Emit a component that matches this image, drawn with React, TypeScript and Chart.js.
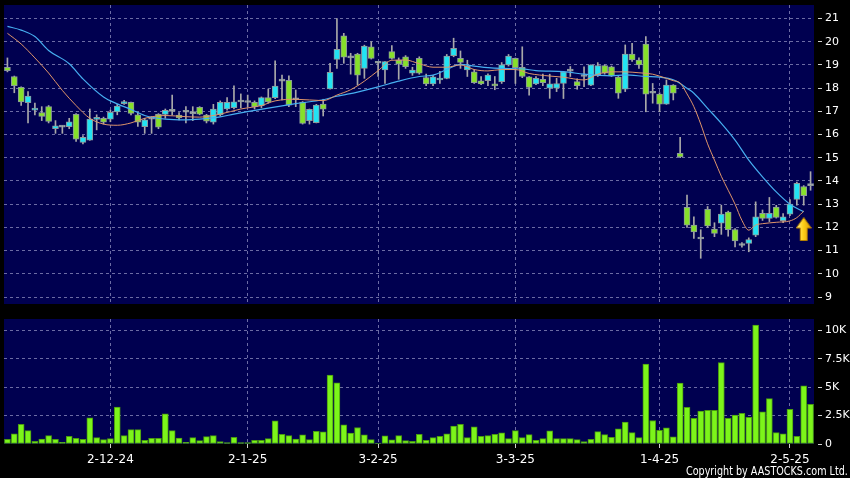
import React, { useEffect, useRef } from 'react';
import { Chart, registerables } from 'chart.js';

Chart.register(...registerables);

// ---------- DATA ----------
const dates: string[] = [
  '11-11-24','12-11-24','13-11-24','14-11-24','15-11-24','18-11-24','19-11-24','20-11-24','21-11-24','22-11-24',
  '25-11-24','26-11-24','27-11-24','28-11-24','29-11-24',
  '2-12-24','3-12-24','4-12-24','5-12-24','6-12-24','9-12-24','10-12-24','11-12-24','12-12-24','13-12-24',
  '16-12-24','17-12-24','18-12-24','19-12-24','20-12-24','23-12-24','24-12-24','27-12-24','30-12-24','31-12-24',
  '2-1-25','3-1-25','6-1-25','7-1-25','8-1-25','9-1-25','10-1-25','13-1-25','14-1-25','15-1-25',
  '16-1-25','17-1-25','20-1-25','21-1-25','22-1-25','23-1-25','24-1-25','27-1-25','28-1-25',
  '3-2-25','4-2-25','5-2-25','6-2-25','7-2-25','10-2-25','11-2-25','12-2-25','13-2-25','14-2-25',
  '17-2-25','18-2-25','19-2-25','20-2-25','21-2-25','24-2-25','25-2-25','26-2-25','27-2-25','28-2-25',
  '3-3-25','4-3-25','5-3-25','6-3-25','7-3-25','10-3-25','11-3-25','12-3-25','13-3-25','14-3-25',
  '17-3-25','18-3-25','19-3-25','20-3-25','21-3-25','24-3-25','25-3-25','26-3-25','27-3-25','28-3-25','31-3-25',
  '1-4-25','2-4-25','3-4-25','7-4-25','8-4-25','9-4-25','10-4-25','11-4-25','14-4-25','15-4-25',
  '16-4-25','17-4-25','22-4-25','23-4-25','24-4-25','25-4-25','28-4-25','29-4-25','30-4-25',
  '2-5-25','6-5-25','7-5-25','8-5-25'
];

const tickLabels: string[] = ['2-12-24', '2-1-25', '3-2-25', '3-3-25', '1-4-25', '2-5-25'];
const priceTicks: number[] = [9, 10, 11, 12, 13, 14, 15, 16, 17, 18, 19, 20, 21];
const volTicks: number[] = [0, 2500, 5000, 7500, 10000];

const openP: number[] = [
  18.9,18.5,18.03,17.37,17.05,16.95,17.2,16.25,16.32,16.34,
  16.87,15.66,15.76,16.65,16.7,16.66,16.97,17.33,17.39,16.85,
  16.34,16.66,16.87,16.87,17.0,16.84,16.96,16.9,17.17,16.84,
  16.53,16.84,17.1,17.16,17.4,17.38,17.39,17.24,17.59,17.59,
  18.32,18.34,17.5,17.4,16.6,16.51,17.31,17.97,19.24,20.25,
  19.3,19.47,18.85,19.78,19.07,18.78,19.57,19.21,19.35,18.64,
  19.28,18.45,18.18,18.35,18.42,19.4,19.28,18.78,18.7,18.31,
  18.32,18.18,18.28,19.0,19.28,18.9,18.49,18.18,18.38,18.0,
  18.0,18.2,18.73,18.28,18.5,18.13,18.56,18.97,18.92,18.47,
  17.95,19.47,19.21,19.9,17.78,17.74,17.31,18.13,15.19,12.86,
  12.1,11.5,12.78,11.93,12.18,12.66,11.91,11.22,11.31,11.67,
  12.61,12.39,12.88,12.29,12.57,13.21,13.76,13.8
];

const highP: number[] = [
  19.3,18.52,18.05,17.85,17.35,17.2,17.25,16.6,16.38,16.7,
  16.9,15.95,17.1,16.85,16.75,17.05,17.3,17.47,17.4,16.95,
  16.7,16.77,16.9,17.1,17.7,16.95,17.2,17.2,17.2,16.87,
  17.3,17.45,17.59,18.1,17.75,17.7,17.45,17.62,17.96,19.17,
  18.56,18.53,17.92,17.42,17.1,17.3,17.52,19.07,21.0,20.36,
  19.5,19.5,19.85,20.0,19.15,19.14,19.83,19.3,19.4,18.9,
  19.35,18.6,18.55,18.72,19.45,20.15,19.6,19.2,18.8,18.5,
  18.62,18.5,19.1,19.45,19.3,19.78,18.5,18.5,18.6,18.6,
  18.42,18.72,18.93,18.4,18.92,19.0,19.1,19.0,18.95,18.5,
  19.86,19.93,19.3,20.22,18.2,17.8,18.35,18.15,15.88,13.39,
  12.46,11.9,12.9,12.2,12.96,12.7,11.95,11.35,11.55,13.1,
  12.75,13.29,12.95,12.6,13.2,13.95,13.8,14.4
];

const lowP: number[] = [
  18.7,17.8,17.25,16.5,16.85,16.6,16.5,16.05,16.05,16.25,
  15.7,15.6,15.75,16.2,16.45,16.55,16.85,17.3,16.85,16.35,
  16.05,16.05,16.25,16.7,16.84,16.63,16.5,16.6,16.85,16.5,
  16.45,16.8,17.05,17.1,17.15,17.2,17.1,17.15,17.35,17.55,
  17.49,17.2,17.2,16.45,16.45,16.5,16.8,17.95,18.85,19.07,
  18.6,18.13,18.42,19.25,18.5,18.2,19.25,18.38,18.85,18.55,
  18.6,18.1,18.1,18.2,18.4,19.35,18.85,18.5,18.2,18.15,
  18.1,17.93,18.2,18.95,18.2,18.45,17.7,18.15,18.1,17.56,
  17.85,17.55,18.5,17.95,18.06,18.1,18.5,18.6,18.5,17.56,
  17.85,19.15,18.85,16.98,17.35,16.98,17.3,17.49,15.0,12.0,
  11.53,10.67,12.0,11.6,11.7,11.62,11.16,11.15,10.95,11.6,
  12.3,12.25,12.4,12.2,12.5,12.96,12.96,13.6
];

const closeP: number[] = [
  18.75,18.1,17.41,17.66,17.12,16.78,16.57,16.38,16.33,16.55,
  15.8,15.88,16.67,16.7,16.53,16.96,17.23,17.38,16.91,16.53,
  16.63,16.66,16.32,17.04,17.02,16.72,16.97,16.92,16.88,16.58,
  17.1,17.39,17.39,17.41,17.42,17.39,17.2,17.59,17.41,18.09,
  18.3,17.27,17.52,16.48,17.09,17.27,17.09,18.68,19.67,19.33,
  19.32,18.56,19.81,19.28,19.1,19.14,19.28,19.03,18.92,18.78,
  18.64,18.18,18.49,18.42,19.38,19.71,19.11,18.95,18.23,18.18,
  18.56,18.09,19.0,19.38,18.88,18.5,18.03,18.42,18.23,18.18,
  18.2,18.7,18.75,18.1,18.52,19.0,18.97,18.64,18.52,17.78,
  19.47,19.21,19.0,17.74,17.8,17.31,18.13,17.78,15.04,12.1,
  11.81,11.52,12.06,11.74,12.57,11.9,11.42,11.24,11.48,12.46,
  12.39,12.61,12.43,12.46,13.0,13.9,13.37,13.82
];

const volume: number[] = [
  410,890,1720,1180,240,440,740,410,150,680,
  500,410,2310,560,380,470,3250,740,1270,1270,
  330,500,500,2660,1180,530,150,560,300,650,
  740,210,120,590,120,120,330,330,470,2040,
  860,740,440,800,380,1120,1070,6070,5380,1690,
  950,1450,800,380,90,710,360,740,300,240,
  860,330,560,680,890,1570,1720,560,1510,680,
  740,860,980,470,1180,560,830,330,470,1150,
  470,470,470,380,210,410,1090,830,590,1330,
  1920,1000,560,7040,2070,1210,1420,620,5360,3220,
  2250,2900,2960,2960,7160,2250,2540,2690,2340,10470,
  2840,3990,1000,890,3050,680,5120,3490
];

// moving averages: [candle index, value]
const maFast: [number, number][] = [
  [0,20.36],[2,19.9],[4,19.3],[6,18.65],[8,17.9],[10,17.25],[12,16.7],[14,16.45],[16,16.4],[18,16.5],
  [20,16.7],[23,16.82],[26,16.77],[28,16.75],[31,16.88],[34,17.1],[37,17.25],[39,17.45],[42,17.52],
  [46,17.46],[48,17.7],[50,17.93],[52,18.3],[54,18.75],[56,19.2],[58,19.21],[60,19.05],[62,18.9],
  [64,18.9],[66,19.0],[68,18.8],[70,18.74],[72,18.8],[74,18.8],[76,18.63],[79,18.52],[81,18.47],
  [84,18.35],[86,18.6],[88,18.7],[90,18.7],[92,18.66],[94,18.6],[96,18.42],[97,18.32],[98,18.22],
  [99,17.75],[100,17.2],[101,16.45],[102,15.6],[103,14.9],[104,14.2],[105,13.6],[106,13.0],
  [107,12.3],[108,11.88],[109,12.1],[110,12.16],[112,12.22],[114,12.28],[115,12.42],[116,12.7]
];

const maSlow: [number, number][] = [
  [0,20.66],[2,20.5],[4,20.22],[6,19.62],[9,19.05],[11,18.4],[14,17.62],[16,17.32],[18,17.08],
  [20,16.82],[23,16.66],[26,16.63],[28,16.66],[31,16.76],[33,16.88],[38,17.14],[42,17.33],[46,17.5],
  [48,17.65],[51,17.83],[54,18.05],[57,18.3],[60,18.5],[62,18.56],[64,18.8],[66,19.02],[68,18.95],
  [70,18.88],[72,18.85],[75,18.83],[77,18.75],[81,18.71],[84,18.6],[88,18.53],[90,18.57],[93,18.5],
  [95,18.47],[97,18.36],[98,18.2],[99,17.99],[100,17.78],[102,17.13],[104,16.48],[106,15.76],
  [108,14.9],[110,14.18],[112,13.53],[114,13.0],[116,12.67]
];

const arrowMark: [number, number] = [116, 11.93];

// ---------- STYLE ----------
const NAVY = '#000050';
const GRID = '#6c6ca4';
const UP = '#22e3f3';
const DOWN = '#86e02a';
const FLAT = '#b4b4b4';
const WICK = '#a8a8a8';
const VOL = '#7cf51a';

const bgPlugin = {
  id: 'plotBg',
  beforeDraw(chart: any) {
    const { ctx, chartArea: a } = chart;
    ctx.save();
    ctx.fillStyle = NAVY;
    ctx.fillRect(a.left, a.top, a.right - a.left, a.bottom - a.top);
    ctx.restore();
  },
};

function makeArrow(): HTMLCanvasElement {
  const c = document.createElement('canvas');
  c.width = 16;
  c.height = 24;
  const g = c.getContext('2d')!;
  g.beginPath();
  g.moveTo(8, 0.5);
  g.lineTo(15.5, 11);
  g.lineTo(11.5, 11);
  g.lineTo(11.5, 23.5);
  g.lineTo(4.5, 23.5);
  g.lineTo(4.5, 11);
  g.lineTo(0.5, 11);
  g.closePath();
  const grad = g.createLinearGradient(0, 0, 16, 0);
  grad.addColorStop(0, '#fff3a0');
  grad.addColorStop(0.45, '#ffd21a');
  grad.addColorStop(1, '#d99400');
  g.fillStyle = grad;
  g.fill();
  g.strokeStyle = '#b07a00';
  g.lineWidth = 1;
  g.stroke();
  return c;
}

const isTick = (i: number) => tickLabels.includes(dates[i]);

const noPad = (s: any) => {
  s.paddingTop = 0;
  s.paddingBottom = 0;
};

export default function App() {
  const priceRef = useRef<HTMLCanvasElement>(null);
  const volRef = useRef<HTMLCanvasElement>(null);

  useEffect(() => {
    Chart.defaults.font.family = "'DejaVu Sans', sans-serif";
    const bodyColors = dates.map((_, i) =>
      Math.abs(closeP[i] - openP[i]) < 0.05 ? FLAT : closeP[i] > openP[i] ? UP : DOWN
    );

    const price = new Chart(priceRef.current!, {
      type: 'bar',
      data: {
        labels: dates,
        datasets: [
          {
            type: 'line',
            data: [{ x: dates[arrowMark[0]], y: arrowMark[1] }],
            showLine: false,
            pointStyle: makeArrow() as any,
            pointRadius: 8,
            order: -1,
          } as any,
          {
            type: 'line',
            data: maFast.map(([i, v]) => ({ x: dates[i], y: v })),
            borderColor: '#e0956a',
            borderWidth: 1,
            pointRadius: 0,
            cubicInterpolationMode: 'monotone',
            order: 0,
          } as any,
          {
            type: 'line',
            data: maSlow.map(([i, v]) => ({ x: dates[i], y: v })),
            borderColor: '#46aef0',
            borderWidth: 1.2,
            pointRadius: 0,
            cubicInterpolationMode: 'monotone',
            order: 1,
          } as any,
          {
            type: 'bar',
            data: dates.map((_, i) => [openP[i], closeP[i]]),
            backgroundColor: bodyColors,
            borderColor: '#8c9a9c',
            borderWidth: 1,
            borderSkipped: false,
            barThickness: 6,
            minBarLength: 2,
            grouped: false,
            order: 2,
          } as any,
          {
            type: 'bar',
            data: dates.map((_, i) => [lowP[i], highP[i]]),
            backgroundColor: WICK,
            borderWidth: 0,
            barThickness: 1,
            grouped: false,
            order: 3,
          } as any,
        ],
      },
      options: {
        responsive: false,
        animation: false,
        events: [],
        layout: { autoPadding: false, padding: { left: 4, top: 5, right: 0, bottom: 6 } },
        plugins: { legend: { display: false }, tooltip: { enabled: false } },
        scales: {
          x: {
            type: 'category',
            offset: true,
            ticks: { display: false, autoSkip: false },
            grid: {
              offset: false,
              drawTicks: false,
              color: (ctx: any) => (isTick(ctx.index) ? GRID : 'transparent'),
            },
            border: { display: false, dash: [3, 3] },
            afterFit: (s: any) => {
              s.height = 0;
              s.paddingLeft = 0;
              s.paddingRight = 0;
            },
          },
          y: {
            position: 'right',
            min: 8.7,
            max: 21.58,
            afterBuildTicks: (s: any) => {
              s.ticks = priceTicks.map((v) => ({ value: v }));
            },
            ticks: {
              color: '#ffffff',
              font: { size: 11 },
              padding: 3,
            },
            grid: {
              color: GRID,
              tickColor: '#d0d0d0',
              tickLength: 8,
              tickBorderDash: [0, 4, 4, 30],
            },
            border: { display: false, dash: [3, 3] },
            afterFit: (s: any) => {
              s.width = 36;
              noPad(s);
            },
          },
        },
      } as any,
      plugins: [bgPlugin],
    });

    const vol = new Chart(volRef.current!, {
      type: 'bar',
      data: {
        labels: dates,
        datasets: [
          {
            data: volume,
            backgroundColor: VOL,
            borderColor: '#4a9a10',
            borderWidth: 1,
            borderSkipped: false,
            barThickness: 6,
          } as any,
        ],
      },
      options: {
        responsive: false,
        animation: false,
        events: [],
        layout: { autoPadding: false, padding: { left: 4, top: 9, right: 0, bottom: 0 } },
        plugins: { legend: { display: false }, tooltip: { enabled: false } },
        scales: {
          x: {
            type: 'category',
            offset: true,
            ticks: {
              autoSkip: false,
              maxRotation: 0,
              minRotation: 0,
              color: '#ffffff',
              font: { size: 12 },
              padding: 5,
              callback: (_v: any, i: number) => (isTick(i) ? dates[i] : ''),
            },
            grid: {
              offset: false,
              tickLength: 4,
              color: (ctx: any) => (isTick(ctx.index) ? GRID : 'transparent'),
              tickColor: (ctx: any) => (isTick(ctx.index) ? '#d0d0d0' : 'transparent'),
            },
            border: { display: false, dash: [3, 3] },
            afterFit: (s: any) => {
              s.height = 34;
              s.paddingLeft = 0;
              s.paddingRight = 0;
            },
          },
          y: {
            position: 'right',
            min: 0,
            max: 11000,
            afterBuildTicks: (s: any) => {
              s.ticks = volTicks.map((v) => ({ value: v }));
            },
            ticks: {
              color: '#ffffff',
              font: { size: 11 },
              padding: 3,
              callback: (v: any) => (v === 0 ? '0' : `${v / 1000}K`),
            },
            grid: {
              color: (ctx: any) => (ctx.tick && ctx.tick.value === 0 ? 'transparent' : GRID),
              tickColor: '#d0d0d0',
              tickLength: 8,
              tickBorderDash: [0, 4, 4, 30],
            },
            border: { display: false, dash: [3, 3] },
            afterFit: (s: any) => {
              s.width = 36;
              noPad(s);
            },
          },
        },
      } as any,
      plugins: [bgPlugin],
    });

    return () => {
      price.destroy();
      vol.destroy();
    };
  }, []);

  return (
    <div
      style={{
        position: 'absolute',
        left: 0,
        top: 0,
        width: 850,
        height: 478,
        background: '#000',
        overflow: 'hidden',
      }}
    >
      <canvas ref={priceRef} width={850} height={310} style={{ position: 'absolute', left: 0, top: 0 }} />
      <canvas ref={volRef} width={850} height={168} style={{ position: 'absolute', left: 0, top: 310 }} />
      <div
        style={{
          position: 'absolute',
          right: 2,
          top: 464,
          color: '#ffffff',
          fontFamily: "'DejaVu Sans Condensed', 'DejaVu Sans', sans-serif",
          fontSize: '12px',
          lineHeight: '14px',
          whiteSpace: 'nowrap',
          transform: 'scaleX(0.89)',
          transformOrigin: 'right center',
        }}
      >
        Copyright by AASTOCKS.com Ltd.
      </div>
    </div>
  );
}
